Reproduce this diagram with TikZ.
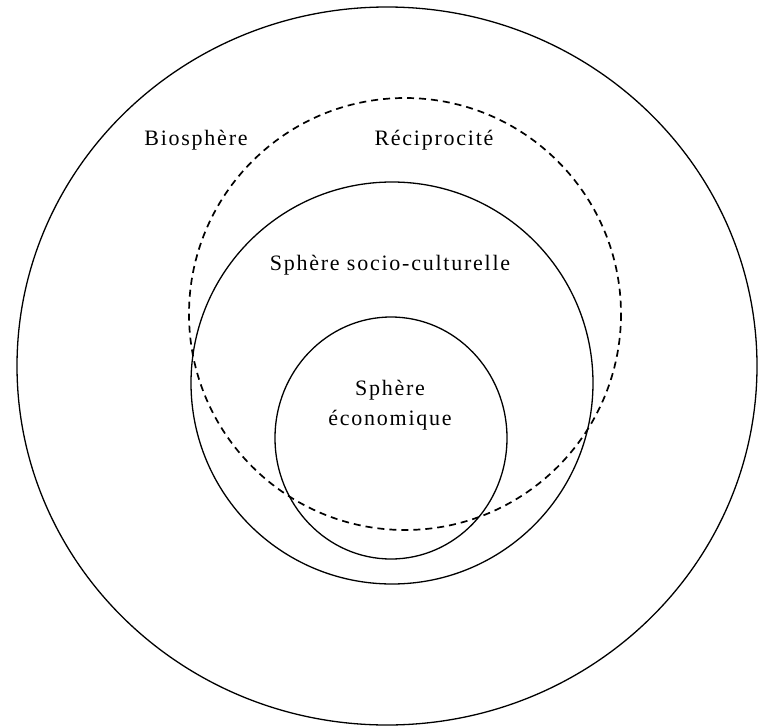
\documentclass[tikz,border=0pt]{standalone}
\usepackage{fontspec}
\setmainfont{Liberation Serif}[LetterSpace=8]
\tikzset{
    sphere/.style={line width=1.3pt},
    recip/.style={line width=1.7pt, dash pattern=on 7pt off 5pt},
    sphere label/.style={font=\fontsize{22}{30}\selectfont, inner sep=0pt, anchor=base}
}
\begin{document}
\begin{tikzpicture}[x=1pt,y=-1pt]
    \useasboundingbox (0,0) rectangle (758,728);

%Spheres
    \draw[sphere] (387,366) ellipse [x radius=370, y radius=359];
    \draw[sphere] (392,383) circle [radius=201];
    \draw[sphere] (391,438) ellipse [x radius=116, y radius=121];

%Reciprocity
    \draw[recip] (405,314) circle [radius=216];

%Labels
    \node[sphere label] (bio) at (196,145) {Biosphère};
    \node[sphere label] (recipro) at (434,145) {Réciprocité};
    \node[sphere label] (socio) at (390,270) {Sphère socio-culturelle};
    \node[sphere label] (eco1) at (390,395) {Sphère};
    \node[sphere label] (eco2) at (390,425) {économique};

\end{tikzpicture}
\end{document}
